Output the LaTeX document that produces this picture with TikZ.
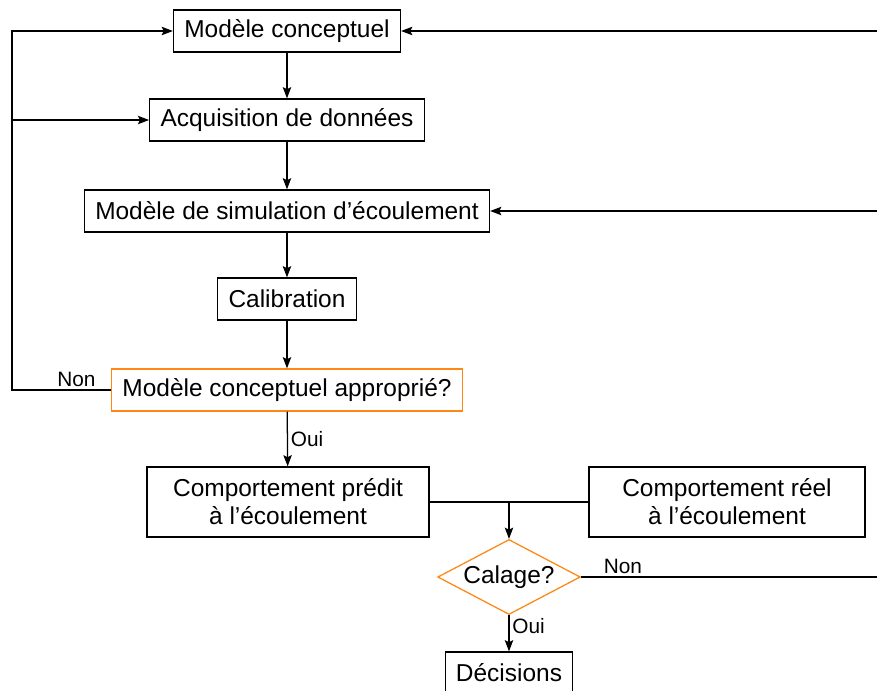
\documentclass[tikz,border=0pt]{standalone}
\usepackage{fontspec}
\setmainfont{Liberation Sans}
\usepackage{xcolor}
\usetikzlibrary{positioning, arrows.meta, shapes.geometric, calc}

\definecolor{orangecadre}{RGB}{255,136,20}

\tikzset{
    etape/.style = {draw, line width=0.9pt, minimum height=1.05cm, inner xsep=0.27cm,
        font=\fontsize{17.4}{20}\selectfont},
    question/.style = {etape, draw=orangecadre},
    bloc/.style = {etape, align=center, minimum height=1.75cm},
    test/.style = {diamond, draw=orangecadre, line width=0.9pt, aspect=1.9, inner sep=1pt,
        minimum width=3.45cm, minimum height=1.83cm, font=\fontsize{17.4}{20}\selectfont},
    fleche/.style = {-{Stealth[length=8pt, width=6pt, inset=1.5pt]}, line width=0.9pt},
    reponse/.style = {font=\fontsize{14.8}{17}\selectfont, inner sep=2pt}
}

\begin{document}
\begin{tikzpicture} [node distance = 2.25cm, on grid, auto]

        \useasboundingbox (-7.175,0.775) rectangle (14.75,-16.475);

        \node (conc) [etape] {Modèle conceptuel};
        \node (acq) [etape, below = 2.225cm of conc] {Acquisition de données};
        \node (simu) [etape, below = 2.275cm of acq] {Modèle de simulation d’écoulement};
        \node (calib) [etape, below = 2.2cm of simu] {Calibration};
        \node (appr) [question, below = 2.275cm of calib] {Modèle conceptuel approprié?};
        \node (predit) [bloc, minimum width=7.05cm, below = 2.8cm of appr, xshift=0.025cm]
            {Comportement prédit\\à l’écoulement};
        \node (reel) [bloc, minimum width=6.9cm, right = 10.975cm of predit]
            {Comportement réel\\à l’écoulement};
        \coordinate (jonction) at ($(predit.east)!0.5!(reel.west)$);
        \node (calage) [test] at ($(jonction)+(0,-1.875)$) {Calage?};
        \node (decis) [etape, below = 2.4cm of calage] {Décisions};

        \coordinate (gauche) at (-6.875,0);
        \coordinate (droite) at (14.85,0);

        \path [fleche]
            (conc) edge (acq)
            (acq) edge (simu)
            (simu) edge (calib)
            (calib) edge (appr)
            (appr) edge node [reponse, right] {Oui} (predit)
            (jonction) edge (calage)
            (calage) edge node [reponse, right, pos=0.3] {Oui} (decis);

        % boucle de gauche
        \draw [fleche] (appr.west) -- node [reponse, above, pos=0.35] {Non}
            (appr.west -| gauche) |- (conc.west);
        \draw [fleche] (acq.west -| gauche) -- (acq.west);

        % comparaison
        \draw [line width=0.9pt] (predit.east) -- (reel.west);

        % boucle de droite
        \draw [fleche] (calage.east) -- node [reponse, above, pos=0.14] {Non}
            (calage.east -| droite) |- (conc.east);
        \draw [fleche] (simu.east -| droite) -- (simu.east);

    \end{tikzpicture}
\end{document}
